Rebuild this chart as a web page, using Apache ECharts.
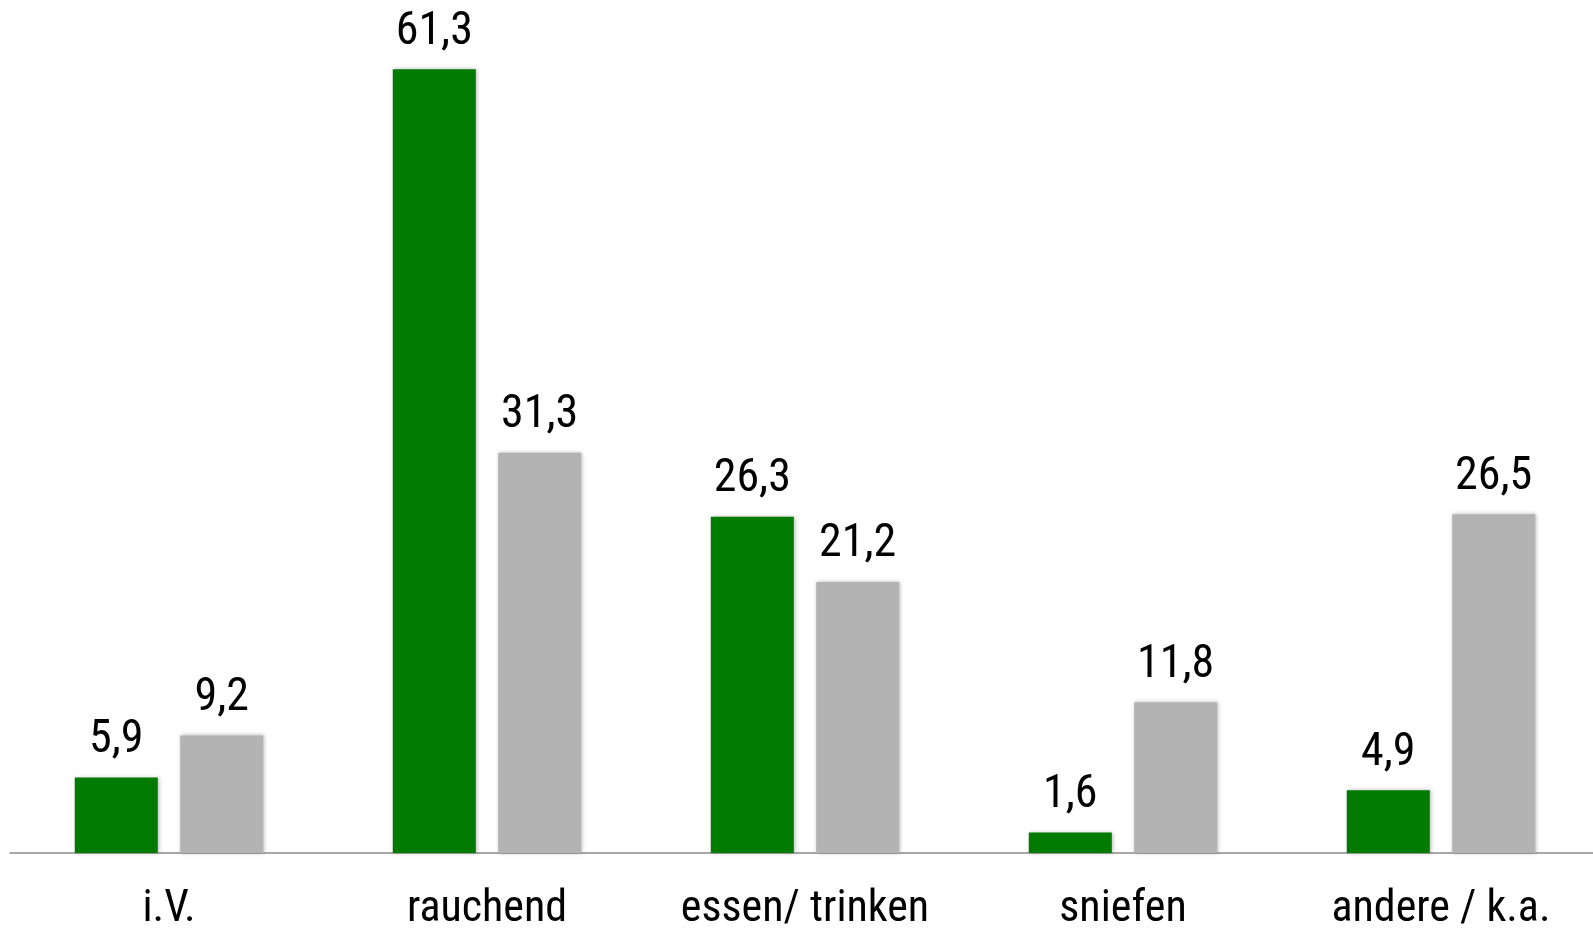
<!DOCTYPE html>
<html>
<head>
<meta charset="utf-8">
<script src="https://cdn.jsdelivr.net/npm/echarts@6/dist/echarts.min.js"></script>
<style>
  html, body { margin: 0; padding: 0; background: #fff; }
  #chart { width: 1593px; height: 933px; }
</style>
</head>
<body>
<div id="chart"></div>
<script>
// Konsumform, Anteile in Prozent
const categories = ['i.V.', 'rauchend', 'essen/ trinken', 'sniefen', 'andere / k.a.'];
const seriesGreen = [5.9, 61.3, 26.3, 1.6, 4.9];
const seriesGrey = [9.2, 31.3, 21.2, 11.8, 26.5];

const fontFamily = '"Roboto Condensed", "Liberation Sans Narrow", "Arial Narrow", sans-serif';
const fmt = p => p.value.toFixed(1).replace('.', ',');

const barStyle = color => ({
  color: color,
  shadowColor: 'rgba(0,0,0,0.28)',
  shadowBlur: 4,
  shadowOffsetX: 1,
  shadowOffsetY: 0
});

const valueLabel = {
  show: true,
  position: 'top',
  distance: 14,
  color: '#000',
  fontFamily: fontFamily,
  fontSize: 46,
  formatter: fmt
};

const chart = echarts.init(document.getElementById('chart'), null, { renderer: 'canvas' });
chart.setOption({
  animation: false,
  backgroundColor: '#ffffff',
  grid: { left: 10, width: 1590, top: 22, bottom: 80, containLabel: false, outerBoundsMode: 'none' },
  xAxis: {
    type: 'category',
    data: categories,
    axisLine: { show: true, lineStyle: { color: '#8c8c8c', width: 1.5 } },
    axisTick: { show: false },
    axisLabel: {
      color: '#000',
      fontFamily: fontFamily,
      fontSize: 44,
      margin: 35,
      interval: 0,
      hideOverlap: false
    }
  },
  yAxis: {
    type: 'value',
    min: 0,
    max: 65,
    show: false,
    splitLine: { show: false }
  },
  series: [
    {
      name: 'A',
      type: 'bar',
      data: seriesGreen,
      barWidth: 83,
      barGap: '27%',
      itemStyle: barStyle('#007b00'),
      label: valueLabel
    },
    {
      name: 'B',
      type: 'bar',
      data: seriesGrey,
      barWidth: 83,
      barGap: '27%',
      itemStyle: barStyle('#b3b3b3'),
      label: valueLabel
    }
  ]
});
</script>
</body>
</html>
